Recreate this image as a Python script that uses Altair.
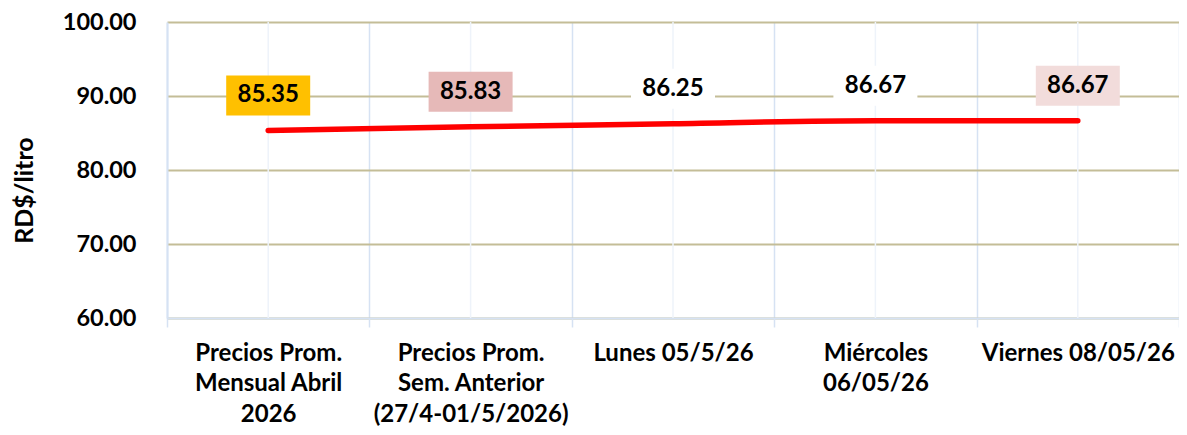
import altair as alt
import pandas as pd

categories = [
    "Precios Prom.|Mensual Abril|2026",
    "Precios Prom.|Sem. Anterior|(27/4-01/5/2026)",
    "Lunes 05/5/26",
    "Miércoles|06/05/26",
    "Viernes  08/05/26",
]
values = [85.35, 85.83, 86.25, 86.67, 86.67]
box_colors = ["#FFC000", "#E6B9B8", "#FFFFFF", "#FFFFFF", "#F2DCDB"]
y_ticks = [60, 70, 80, 90, 100]

df = pd.DataFrame({"cat": categories, "val": values, "box": box_colors,
                   "lbl": [f"{v:.2f}" for v in values]})

FONT = "Lato"
xscale = alt.Scale(type="band", paddingInner=0, paddingOuter=0, domain=categories)
yscale = alt.Scale(domain=[60, 100])

x_enc = alt.X("cat:N", sort=None, scale=xscale, axis=alt.Axis(
    title=None, labelExpr="split(datum.label, '|')", labelAngle=0, labelLimit=0,
    tickBand="extent", grid=True, gridColor="#D6E2F3", gridWidth=1.5,
    domainColor="#D6E2F3", domainWidth=2, tickColor="#D6E2F3", tickWidth=1.5,
    tickSize=9, labelPadding=14, labelBaseline="top", labelLineHeight=30.5,
    labelFont=FONT, labelFontSize=24, labelFontWeight="bold", labelColor="#000000"))

y_axis = alt.Axis(values=y_ticks, format=".2f", title="RD$/litro", grid=True,
                  gridColor="#C4BD97", gridWidth=2, ticks=False, domainColor="#D6E2F3",
                  domainWidth=2, labelPadding=31, labelFont=FONT, labelFontSize=23.5,
                  labelFontWeight="bold", labelColor="#000000",
                  titleFont=FONT, titleFontSize=25, titleFontWeight="bold",
                  titleColor="#000000", titleAngle=270, titleX=-143, titleY=168,
                  titleAlign="center", titleBaseline="middle")

base = alt.Chart(df)

center_rules = base.mark_rule(color="#EEF3FA", strokeWidth=1.5).encode(x=x_enc)

line = base.mark_line(color="#FF0000", strokeWidth=5.5, strokeCap="round",
                      interpolate="monotone").encode(
    x=x_enc, y=alt.Y("val:Q", scale=yscale, axis=y_axis))

box_shape = "M-2.1,-1L2.1,-1L2.1,1L-2.1,1Z"
boxes = base.mark_point(shape=box_shape, size=1600, filled=True, opacity=1,
                        strokeWidth=0, yOffset=-35).encode(
    x=x_enc, y=alt.Y("val:Q", scale=yscale), color=alt.Color("box:N", scale=None))

texts = base.mark_text(yOffset=-35, font=FONT, fontSize=24, fontWeight="bold",
                       color="#000000", baseline="middle").encode(
    x=x_enc, y=alt.Y("val:Q", scale=yscale), text="lbl:N")

chart = alt.layer(center_rules, line, boxes, texts).properties(
    width=1012, height=296, autosize="none",
    padding={"left": 159, "top": 14, "right": 0, "bottom": 108},
    background="#FFFFFF",
).configure_view(stroke=None)

chart.save("out.html", embed_options={"renderer": "svg", "actions": False})
